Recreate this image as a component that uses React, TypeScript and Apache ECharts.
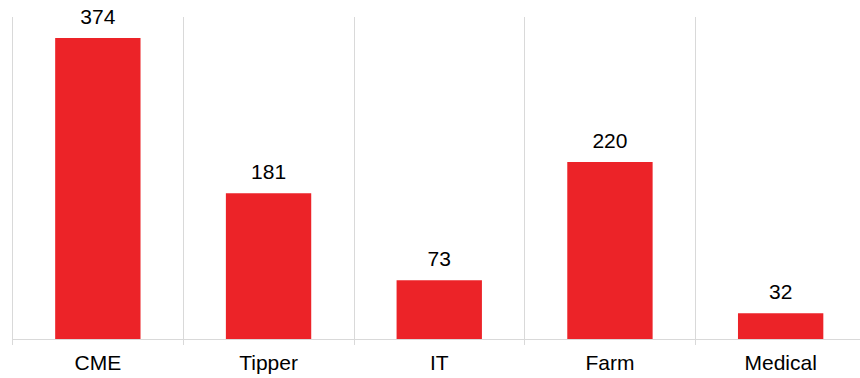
import React, { useEffect, useRef } from "react";
import * as echarts from "echarts";

const categories = ["CME", "Tipper", "IT", "Farm", "Medical"];
const values = [374, 181, 73, 220, 32];

export default function App() {
  const ref = useRef<HTMLDivElement>(null);
  useEffect(() => {
    if (!ref.current) return;
    const chart = echarts.init(ref.current, null, { renderer: "svg" });
    chart.setOption({
      animation: false,
      grid: { left: 12.5, right: 0, top: 17, bottom: 39, containLabel: false },
      xAxis: {
        type: "category",
        data: categories,
        boundaryGap: true,
        axisLine: { show: true, lineStyle: { color: "#d9d9d9", width: 1 } },
        axisTick: { show: true, length: 6, lineStyle: { color: "#d9d9d9" } },
        splitLine: { show: true, lineStyle: { color: "#d9d9d9", width: 1 } },
        axisLabel: {
          color: "#000",
          fontSize: 21,
          fontFamily: "Liberation Sans, Arial, sans-serif",
          margin: 13,
        },
      },
      yAxis: {
        type: "value",
        min: 0,
        max: 400,
        show: false,
        splitLine: { show: false },
      },
      series: [
        {
          type: "bar",
          data: values,
          barWidth: "50%",
          itemStyle: { color: "#EC2328" },
          label: {
            show: true,
            position: "top",
            distance: 11,
            color: "#000",
            fontSize: 21,
            fontFamily: "Liberation Sans, Arial, sans-serif",
          },
        },
      ],
    });
    return () => chart.dispose();
  }, []);
  return (
    <div style={{ position: "fixed", left: 0, top: 0, width: 860, height: 378, overflow: "hidden", background: "#fff" }}>
      <div ref={ref} style={{ width: 866, height: 378 }} />
    </div>
  );
}
